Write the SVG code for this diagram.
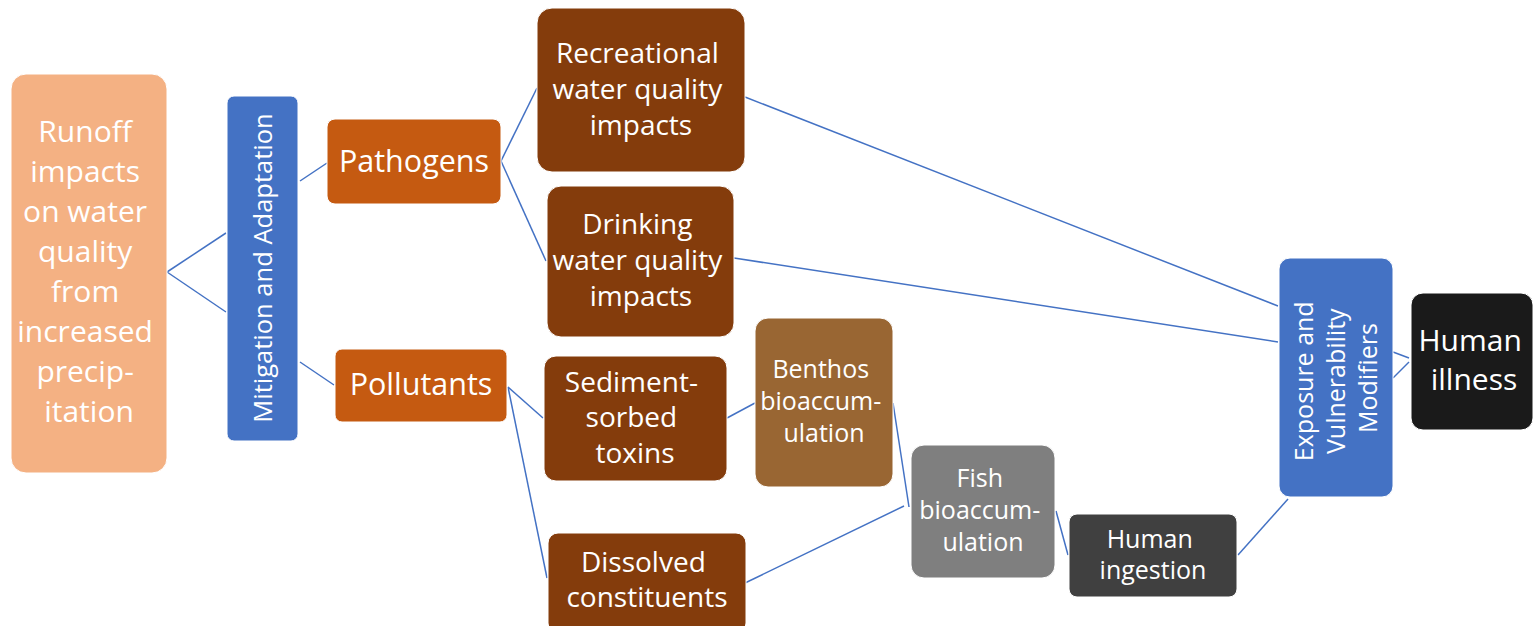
<svg xmlns="http://www.w3.org/2000/svg" width="1533" height="626" viewBox="0 0 1533 626">
<style>
  .box { stroke: #ffffff; stroke-width: 1; }
  .t { font-family: "Open Sans", "Noto Sans", "Liberation Sans", sans-serif; fill: #ffffff; text-anchor: middle; }
  .c line { stroke: #4472C4; stroke-width: 1.5; fill: none; }
</style>
<rect width="1533" height="626" fill="#ffffff"/>
<g class="c" id="connectors">
  <line x1="167" y1="272" x2="226" y2="233"/>
  <line x1="167" y1="272" x2="226" y2="312"/>
  <line x1="300" y1="181" x2="327" y2="163"/>
  <line x1="300" y1="362" x2="334" y2="385"/>
  <line x1="501" y1="161" x2="537" y2="88"/>
  <line x1="501" y1="161" x2="546" y2="261"/>
  <line x1="508" y1="387" x2="543" y2="418"/>
  <line x1="508" y1="387" x2="547" y2="578"/>
  <line x1="727" y1="418" x2="755" y2="403"/>
  <line x1="893" y1="403" x2="909" y2="507"/>
  <line x1="745" y1="583" x2="904" y2="506"/>
  <line x1="1056" y1="511" x2="1068" y2="555"/>
  <line x1="1238" y1="555" x2="1288" y2="499"/>
  <line x1="745" y1="97" x2="1278" y2="306"/>
  <line x1="734" y1="258" x2="1278" y2="342"/>
  <line x1="1393" y1="352" x2="1409" y2="358"/>
  <line x1="1393" y1="378" x2="1409" y2="362"/>
</g>
<g id="runoff">
  <rect class="box" x="11" y="74" width="156" height="399" rx="15" fill="#F4B183"/>
  <text class="t" font-size="30" x="89">
    <tspan x="89" y="142">Runoff</tspan>
    <tspan x="89" y="182">impacts</tspan>
    <tspan x="89" y="222">on water</tspan>
    <tspan x="89" y="262">quality</tspan>
    <tspan x="89" y="302">from</tspan>
    <tspan x="89" y="342">increased</tspan>
    <tspan x="89" y="382">precip-</tspan>
    <tspan x="89" y="422">itation</tspan>
  </text>
</g>
<g id="mitigation">
  <rect class="box" x="227" y="96" width="71" height="345" rx="7" fill="#4472C4"/>
  <text class="t" font-size="25.5" transform="translate(262,268) rotate(-90)" x="0" y="10">Mitigation and Adaptation</text>
</g>
<g id="pathogens">
  <rect class="box" x="327" y="119" width="174" height="85" rx="8" fill="#C55A11"/>
  <text class="t" font-size="30.5" x="414" y="172">Pathogens</text>
</g>
<g id="pollutants">
  <rect class="box" x="335" y="349" width="172" height="73" rx="7" fill="#C55A11"/>
  <text class="t" font-size="30.5" x="421" y="395">Pollutants</text>
</g>
<g id="recreational">
  <rect class="box" x="537" y="8" width="208" height="164" rx="15" fill="#843C0C"/>
  <text class="t" font-size="28">
    <tspan x="641" y="63">Recreational</tspan>
    <tspan x="641" y="99">water quality</tspan>
    <tspan x="641" y="135">impacts</tspan>
  </text>
</g>
<g id="drinking">
  <rect class="box" x="547" y="186" width="187" height="151" rx="14" fill="#843C0C"/>
  <text class="t" font-size="28">
    <tspan x="641" y="234">Drinking</tspan>
    <tspan x="641" y="270">water quality</tspan>
    <tspan x="641" y="306">impacts</tspan>
  </text>
</g>
<g id="sediment">
  <rect class="box" x="544" y="356" width="183" height="125" rx="12" fill="#843C0C"/>
  <text class="t" font-size="28">
    <tspan x="635" y="392">Sediment-</tspan>
    <tspan x="635" y="427">sorbed</tspan>
    <tspan x="635" y="463">toxins</tspan>
  </text>
</g>
<g id="dissolved">
  <rect class="box" x="548" y="533" width="198" height="100" rx="10" fill="#843C0C"/>
  <text class="t" font-size="28">
    <tspan x="647" y="572">Dissolved</tspan>
    <tspan x="647" y="607">constituents</tspan>
  </text>
</g>
<g id="benthos">
  <rect class="box" x="755" y="318" width="138" height="169" rx="13" fill="#996633"/>
  <text class="t" font-size="25">
    <tspan x="824" y="378">Benthos</tspan>
    <tspan x="824" y="410">bioaccum-</tspan>
    <tspan x="824" y="442">ulation</tspan>
  </text>
</g>
<g id="fish">
  <rect class="box" x="911" y="445" width="144" height="133" rx="13" fill="#7F7F7F"/>
  <text class="t" font-size="25">
    <tspan x="983" y="487">Fish</tspan>
    <tspan x="983" y="519">bioaccum-</tspan>
    <tspan x="983" y="551">ulation</tspan>
  </text>
</g>
<g id="ingestion">
  <rect class="box" x="1069" y="514" width="168" height="83" rx="8" fill="#404040"/>
  <text class="t" font-size="25">
    <tspan x="1153" y="548">Human</tspan>
    <tspan x="1153" y="579">ingestion</tspan>
  </text>
</g>
<g id="exposure">
  <rect class="box" x="1279" y="258" width="114" height="239" rx="11" fill="#4472C4"/>
  <text class="t" font-size="25" transform="translate(1336,378) rotate(-90)">
    <tspan x="0" y="-23">Exposure and</tspan>
    <tspan x="0" y="9">Vulnerability</tspan>
    <tspan x="0" y="41">Modifiers</tspan>
  </text>
</g>
<g id="illness">
  <rect class="box" x="1411" y="293" width="122" height="137" rx="12" fill="#1A1A1A"/>
  <text class="t" font-size="30">
    <tspan x="1474" y="351">Human</tspan>
    <tspan x="1474" y="390">illness</tspan>
  </text>
</g>
</svg>
